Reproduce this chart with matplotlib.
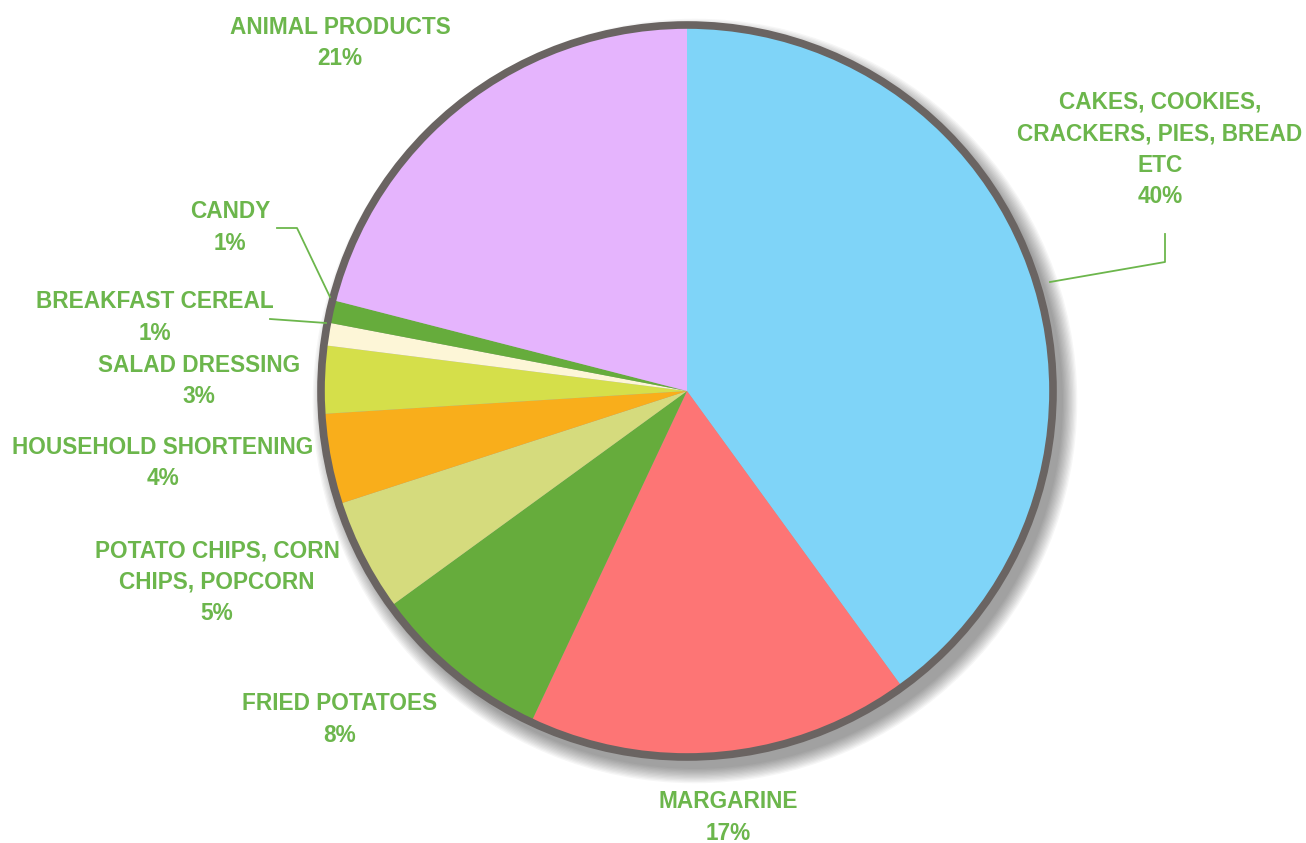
import matplotlib
matplotlib.use("Agg")
import matplotlib.pyplot as plt
from matplotlib.patches import Circle

# slice data, clockwise from 12 o'clock
labels = [
    "CAKES, COOKIES,\nCRACKERS, PIES, BREAD\nETC",
    "MARGARINE",
    "FRIED POTATOES",
    "POTATO CHIPS, CORN\nCHIPS, POPCORN",
    "HOUSEHOLD SHORTENING",
    "SALAD DRESSING",
    "BREAKFAST CEREAL",
    "CANDY",
    "ANIMAL PRODUCTS",
]
shares = [40, 17, 8, 5, 4, 3, 1, 1, 21]
colors = ["#7fd4f8", "#fd7575", "#66ac3c", "#d5db7d", "#f9ae1b",
          "#d5df4a", "#fdf6d7", "#66ac3c", "#e5b4fd"]

# label anchor (pixel coords of the text centre, top line)
label_pos = [(1160, 102), (728, 802), (340, 704), (217, 551), (163, 447),
             (199, 365), (155, 302), (230, 212), (340, 27)]

W, H = 1306, 843
TEXT = "#6cb64c"
FONT = ["Liberation Sans", "DejaVu Sans"]

fig = plt.figure(figsize=(W / 100, H / 100), dpi=100)
ax = fig.add_axes([0, 0, 1, 1])

cx, cy, r = 687, H - 391, 366

# soft drop shadow
for i in range(12):
    ax.add_patch(Circle((cx + 8, cy - 10), r + 2 + i * 1.3, color="#000000",
                        alpha=0.035, lw=0, zorder=0))

ax.pie(shares, colors=colors, startangle=90, counterclock=False,
       center=(cx, cy), radius=r, frame=True,
       wedgeprops=dict(linewidth=0, antialiased=True))
ax.set_xlim(0, W)
ax.set_ylim(0, H)
ax.axis("off")

ax.add_patch(Circle((cx, cy), r, fill=False, edgecolor="#6a6462",
                    linewidth=5.5, zorder=5))

line_h = 31.5
for lab, val, (x, y) in zip(labels, shares, label_pos):
    lines = lab.split("\n") + [f"{val}%"]
    for k, s in enumerate(lines):
        ax.text(x, H - (y + k * line_h), s, ha="center", va="center",
                color=TEXT, fontsize=16.3, fontweight="bold", family=FONT,
                zorder=6)

# leader lines
def leader(pts):
    xs = [p[0] for p in pts]
    ys = [H - p[1] for p in pts]
    ax.plot(xs, ys, color=TEXT, lw=1.3, zorder=6)

leader([(277, 228), (297, 228), (330, 297)])
leader([(270, 319), (326, 323)])
leader([(1165, 234), (1165, 262), (1050, 282)])

fig.savefig("out.png", dpi=100)
